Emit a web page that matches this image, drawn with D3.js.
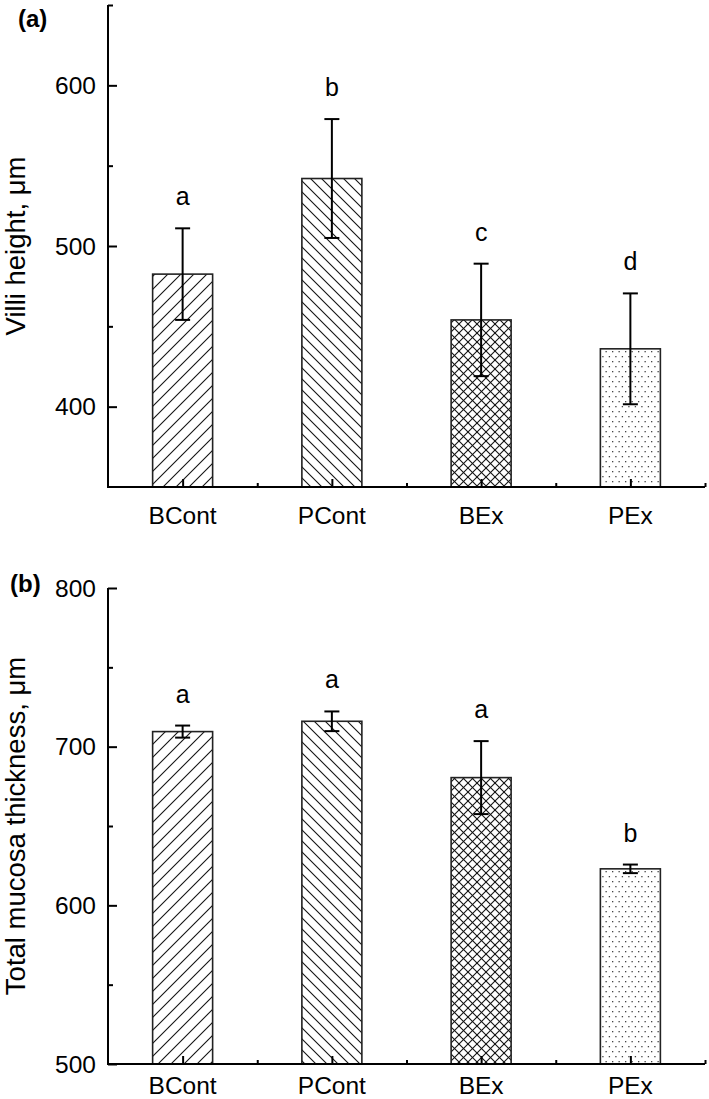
<!DOCTYPE html>
<html><head><meta charset="utf-8">
<script src="https://cdn.jsdelivr.net/npm/d3@7"></script>
<style>body{margin:0;background:#fff}svg{display:block}text{font-family:"Liberation Sans",Arial,sans-serif;fill:#000}</style>
</head><body>
<script>
const categories = ["BCont","PCont","BEx","PEx"];
const villiMean = [482.5, 542, 454, 436];
const villiSD   = [28.5, 37, 35, 34.5];
const villiLetters = ["a","b","c","d"];
const mucosaMean = [709.5, 716, 680.5, 623];
const mucosaSD   = [3.8, 6.2, 23, 2.7];
const mucosaLetters = ["a","a","a","b"];
const villiTicks = [400,500,600];
const villiMinor = [450,550,650];
const mucosaTicks = [500,600,700,800];
const mucosaMinor = [550,650,750];

const W=709,H=1099;
const svg=d3.select("body").append("svg").attr("width",W).attr("height",H);
const defs=svg.append("defs");
function hatch(id,size,paths){
  const p=defs.append("pattern").attr("id",id).attr("patternUnits","userSpaceOnUse").attr("width",size).attr("height",size);
  p.append("rect").attr("width",size).attr("height",size).attr("fill","#fff");
  paths.forEach(d=>p.append("path").attr("d",d).attr("stroke","#111").attr("stroke-width",1.1).attr("fill","none"));
}
hatch("pBC",13,["M0,13 L13,0","M-3,3 L3,-3","M10,16 L16,10"]);
hatch("pPC",11,["M0,0 L11,11","M-3,8 L3,14","M8,-3 L14,3"]);
hatch("pBE",9,["M0,9 L9,0","M-2,2 L2,-2","M7,11 L11,7","M0,0 L9,9","M-2,7 L2,11","M7,-2 L11,2"]);
{
  const p=defs.append("pattern").attr("id","pPE").attr("patternUnits","userSpaceOnUse").attr("width",13).attr("height",10);
  p.append("rect").attr("width",13).attr("height",10).attr("fill","#fff");
  [[1,1],[7.5,1],[4.25,6],[10.75,6]].forEach(([x,y])=>p.append("rect").attr("x",x).attr("y",y).attr("width",1.3).attr("height",1.3).attr("fill","#444"));
}
const fills=["url(#pBC)","url(#pPC)","url(#pBE)","url(#pPE)"];

const x=d3.scaleLinear().domain([0.5,4.5]).range([108,705]);
const barW=60;

function panel(o){
  const y=d3.scaleLinear().domain(o.domain).range(o.range);
  const g=svg.append("g");
  g.selectAll("rect.bar").data(o.mean).join("rect").attr("class","bar")
    .attr("x",(d,i)=>x(i+1)-barW/2).attr("width",barW)
    .attr("y",d=>y(d)).attr("height",d=>y(o.domain[0])-y(d))
    .attr("fill",(d,i)=>fills[i]).attr("stroke","#222").attr("stroke-width",1.6);
  o.mean.forEach((m,i)=>{
    const cx=x(i+1), t=y(m+o.sd[i]), b=y(m-o.sd[i]);
    g.append("line").attr("x1",cx).attr("x2",cx).attr("y1",t).attr("y2",b).attr("stroke","#000").attr("stroke-width",2);
    [t,b].forEach(yy=>g.append("line").attr("x1",cx-7.5).attr("x2",cx+7.5).attr("y1",yy).attr("y2",yy).attr("stroke","#000").attr("stroke-width",2));
    g.append("text").attr("x",cx).attr("y",t-23).attr("text-anchor","middle").attr("font-size",25).text(o.letters[i]);
  });
  const ya=g.append("g").attr("transform",`translate(${x(0.5)},0)`)
    .call(d3.axisRight(y).tickValues(o.ticks).tickSize(9).tickFormat(""));
  ya.select(".domain").remove();
  ya.selectAll("line").attr("stroke","#000").attr("stroke-width",2);
  const ym=g.append("g").attr("transform",`translate(${x(0.5)},0)`)
    .call(d3.axisRight(y).tickValues(o.minor).tickSize(5).tickFormat(""));
  ym.select(".domain").remove();
  ym.selectAll("line").attr("stroke","#000").attr("stroke-width",2);
  g.append("line").attr("x1",x(0.5)).attr("x2",x(0.5)).attr("y1",o.range[1]).attr("y2",o.range[0]+1).attr("stroke","#000").attr("stroke-width",2);
  g.selectAll("text.yl").data(o.ticks).join("text").attr("class","yl")
    .attr("x",96).attr("y",d=>y(d)+8.5).attr("text-anchor","end").attr("font-size",24.5).text(d=>d);
  const base=o.range[0];
  const xa=g.append("g").attr("transform",`translate(0,${base})`)
    .call(d3.axisTop(x).tickValues([1,2,3,4]).tickSize(8).tickFormat(""));
  xa.select(".domain").remove();
  xa.selectAll("line").attr("stroke","#000").attr("stroke-width",2);
  const xm=g.append("g").attr("transform",`translate(0,${base})`)
    .call(d3.axisTop(x).tickValues([1.5,2.5,3.5,4.5]).tickSize(4).tickFormat(""));
  xm.select(".domain").remove();
  xm.selectAll("line").attr("stroke","#000").attr("stroke-width",2);
  g.append("line").attr("x1",x(0.5)-1).attr("x2",x(4.5)).attr("y1",base).attr("y2",base).attr("stroke","#000").attr("stroke-width",2);
  g.selectAll("text.xl").data(categories).join("text").attr("class","xl")
    .attr("x",(d,i)=>x(i+1)).attr("y",base+o.xlabOff).attr("text-anchor","middle").attr("font-size",24.5).text(d=>d);
  const cy=(o.range[0]+o.range[1])/2;
  g.append("text").attr("transform",`translate(25,${cy}) rotate(-90)`).attr("text-anchor","middle").attr("font-size",27.5).text(o.title);
  g.append("text").attr("x",o.tagX).attr("y",o.tagY).attr("font-size",24).attr("font-weight","bold").text(o.tag);
}

panel({domain:[350,650],range:[487,5],mean:villiMean,sd:villiSD,letters:villiLetters,ticks:villiTicks,minor:villiMinor,
  title:"Villi height, μm",tag:"(a)",tagX:18,tagY:27,xlabOff:37});
panel({domain:[500,800],range:[1064,588],mean:mucosaMean,sd:mucosaSD,letters:mucosaLetters,ticks:mucosaTicks,minor:mucosaMinor,
  title:"Total mucosa thickness, μm",tag:"(b)",tagX:10,tagY:592,xlabOff:30});
</script>
</body></html>
